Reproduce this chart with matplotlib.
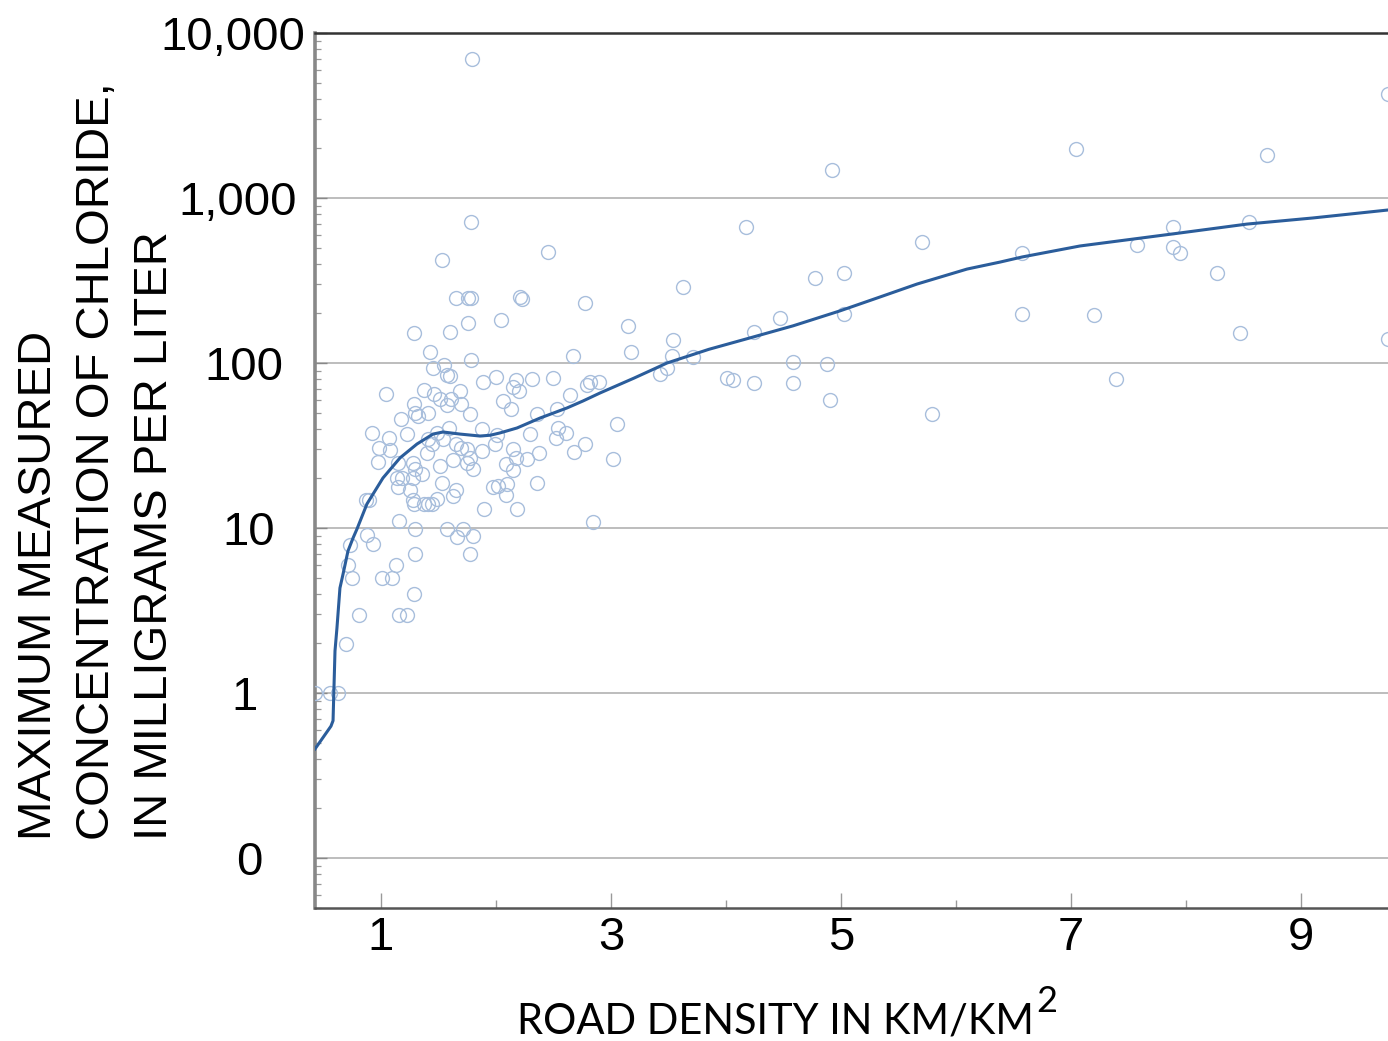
import matplotlib
matplotlib.use('Agg')
import matplotlib.pyplot as plt
import matplotlib.transforms as mtransforms
from matplotlib.ticker import LogLocator, NullFormatter, FixedLocator

# road density (km/km2) and max chloride (mg/L) for each site
road_density = [
    1.79, 9.76, 7.04, 8.70, 4.92, 1.78, 4.17, 8.55, 7.89, 5.70,
    7.57, 7.89, 7.95, 6.57, 2.45, 1.53, 8.27, 5.03, 4.77, 3.63,
    1.65, 1.76, 1.78, 2.23, 2.21, 2.77, 6.57, 7.20, 5.03, 4.47,
    1.76, 2.04, 3.15, 8.47, 1.29, 4.24, 1.60, 3.54, 9.76, 1.43,
    3.17, 1.78, 2.67, 3.53, 3.71, 3.49, 3.43, 4.01, 4.06, 4.24,
    4.58, 4.58, 4.88, 4.90, 7.39, 5.79, 3.05,
    1.04, 1.45, 1.55, 1.57, 1.60, 1.89, 2.00, 2.17, 2.15, 2.20,
    2.31, 2.50, 2.82, 2.90, 2.79, 1.37, 1.69, 1.46, 1.51, 1.61,
    1.57, 1.70, 2.06, 2.13, 2.64, 1.29, 1.30, 1.41, 1.32, 1.17,
    1.77, 2.36, 2.53, 0.92, 1.07, 1.23, 1.49, 1.59, 1.88, 2.01,
    2.30, 2.54, 2.61, 2.52, 2.77, 2.68, 3.02, 0.98, 1.08, 0.97,
    1.41, 1.44, 1.54, 1.65, 1.70, 1.75, 1.88, 1.99, 1.77, 1.63,
    2.15, 2.17, 2.27, 2.37, 1.51, 1.75, 2.09, 2.15, 1.80, 1.28,
    1.30, 1.36, 1.14, 1.18, 1.40, 1.15, 1.28,
    1.15, 1.25, 1.53, 1.65, 1.63, 1.97, 2.02, 2.10, 2.36, 2.09,
    0.87, 0.90, 1.28, 1.29, 1.37, 1.41, 1.44, 1.49, 1.90, 2.18,
    2.84, 1.16, 1.30, 1.57, 1.71, 1.66, 1.80, 0.88, 0.93, 0.73,
    1.30, 1.77, 0.71, 1.13, 0.75, 1.01, 1.10, 1.29, 0.81, 1.16,
    1.23, 0.70, 0.43, 0.56, 0.63,
]
chloride = [
    6950, 4270, 1980, 1820, 1480, 716, 667, 716, 667, 541,
    519, 505, 464, 464, 471, 421, 351, 351, 327, 289,
    248, 248, 248, 244, 250, 231, 198, 195, 198, 187,
    175, 182, 168, 152, 152, 154, 154, 138, 140, 117,
    117, 104, 110, 110, 109, 93, 86, 81, 79, 76,
    101, 76, 99, 60, 80, 49, 42.7,
    65, 93, 97, 85, 83, 77, 82, 79, 72, 68,
    80, 81, 77, 77, 74, 69, 68, 65, 60.5, 60.5,
    55.6, 56.5, 59, 52.6, 64, 56.5, 49.8, 49.8, 47.7, 45.8,
    49.1, 49.1, 52.6, 37.7, 35.1, 37.1, 37.7, 40.4, 39.8, 36.6,
    37.1, 40.4, 37.7, 35.1, 32.3, 28.9, 26.2, 30.5, 29.7, 25.1,
    34.6, 32.3, 34.6, 32.3, 30.5, 30.1, 29.3, 32.3, 26.6, 25.8,
    30.1, 26.6, 26.2, 28.5, 23.8, 24.8, 24.4, 22.5, 22.8, 24.8,
    22.8, 21.2, 20.1, 20.1, 28.5, 24.8, 20.1,
    17.7, 17.0, 18.7, 17.0, 15.6, 17.7, 18.0, 18.5, 18.7, 15.8,
    14.8, 14.8, 14.8, 14.0, 14.0, 14.0, 14.0, 15.0, 13.0, 13.0,
    10.9, 11.0, 9.9, 9.9, 9.9, 8.8, 9.0, 9.1, 8.0, 7.9,
    6.95, 6.95, 5.97, 5.97, 4.98, 4.98, 4.98, 3.98, 2.97, 2.97,
    2.97, 1.98, 1, 1, 1,
]

# smoothed trend line
curve_x = [0.426, 0.565, 0.583, 0.600, 0.617, 0.643, 0.670, 0.713, 0.757, 0.791,
           0.878, 1.017, 1.165, 1.313, 1.452, 1.539, 1.687, 1.861, 1.95, 2.035,
           2.183, 2.383, 2.617, 2.757, 2.904, 3.2, 3.487, 3.85, 4.209, 4.583,
           4.991, 5.33, 5.661, 6.096, 6.383, 6.574, 7.078, 7.948, 8.530, 9.104,
           9.757]
curve_y = [0.458, 0.63, 0.68, 1.80, 2.48, 4.33, 5.26, 7.26, 8.7, 9.86,
           14.0, 20.1, 26.6, 32.3, 37.1, 38.2, 37.1, 36.1, 36.5, 37.7,
           40.4, 46.4, 53.4, 58.9, 65.8, 81, 100, 121, 142, 168,
           207, 250, 301, 371, 409, 439, 512, 614, 695, 757,
           846]

y_ticks = [0.1, 1, 10, 100, 1000, 10000]
y_labels = ['0', '1', '10', '100', '1,000', '10,000']
x_ticks = [1, 3, 5, 7, 9]

plt.rcParams['font.family'] = ['Liberation Sans', 'DejaVu Sans']

fig = plt.figure(figsize=(13.88, 10.41), dpi=100)
ax = fig.add_axes([315/1388, 133/1041, 1073/1388, 875/1041])

ax.plot(road_density, chloride, 'o', ms=10, mfc='none', mec='#a8bedc', mew=1.0, zorder=3)
ax.plot(curve_x, curve_y, color='#2b5d9b', lw=2.2, zorder=4, solid_joinstyle='round')

ax.set_yscale('log')
ax.set_ylim(0.0498, 10000)
ax.set_xlim(0.4261, 9.7565)

ax.yaxis.set_major_locator(FixedLocator(y_ticks))
ax.yaxis.set_major_formatter(NullFormatter())
ax.yaxis.set_minor_locator(LogLocator(base=10, subs=range(2, 10), numticks=20))
ax.yaxis.set_minor_formatter(NullFormatter())
ax.set_xticks(x_ticks)
ax.set_xticks([2, 4, 6, 8], minor=True)

# y labels as in the original: loosely centred, not right aligned
label_right_px = [263, 258, 275, 283, 297, 305]
trans = mtransforms.blended_transform_factory(fig.transFigure, ax.transData)
for val, lab, rx in zip(y_ticks, y_labels, label_right_px):
    ax.text(rx / 1388, val, lab, transform=trans, fontsize=34, ha='right', va='center_baseline',
            clip_on=False)

ax.grid(axis='y', which='major', color='#b8b8b8', lw=1.3)
ax.set_axisbelow(True)

ax.tick_params(axis='y', which='major', direction='in', length=8.5, width=1.0, color='#888888')
ax.tick_params(axis='y', which='minor', direction='in', length=4.3, width=0.9, color='#999999')
ax.tick_params(axis='x', which='major', direction='in', length=11, width=1.0, color='#999999',
               labelsize=34, pad=6)
ax.tick_params(axis='x', which='minor', direction='in', length=5.5, width=1.0, color='#999999')

ax.spines['right'].set_visible(False)
ax.spines['left'].set_color('#888888')
ax.spines['left'].set_linewidth(2.6)
ax.spines['top'].set_color('#333333')
ax.spines['top'].set_linewidth(1.8)
ax.spines['bottom'].set_color('#555555')
ax.spines['bottom'].set_linewidth(1.8)

# x axis title, with the superscript drawn as its own text
fig.text(1034/1388, 1 - 1034/1041, 'ROAD DENSITY IN KM/KM', family='Lato',
         fontsize=30, ha='right', va='baseline')
fig.text(1036/1388, 1 - 1012/1041, '2', family='Lato',
         fontsize=26, ha='left', va='baseline')
fig.text(97/1388, 1 - 840/1041,
         'MAXIMUM MEASURED\nCONCENTRATION OF CHLORIDE,\nIN MILLIGRAMS PER LITER',
         rotation=90, fontsize=34, ha='center', va='bottom', multialignment='left',
         linespacing=1.42)

fig.savefig('out.png', dpi=100)
